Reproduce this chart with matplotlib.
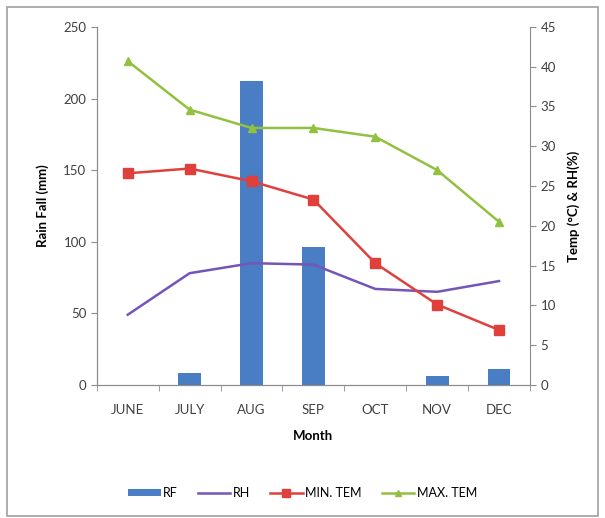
import matplotlib.pyplot as plt
from matplotlib.patches import Rectangle
import numpy as np

plt.rcParams['font.family'] = ['Lato', 'DejaVu Sans']

months = ['JUNE', 'JULY', 'AUG', 'SEP', 'OCT', 'NOV', 'DEC']
rain_fall = [0, 8, 212, 96, 0, 6, 11]          # mm, left axis
rel_humidity = [49, 78, 85, 84, 67, 65, 72.5]  # %, left axis
min_temp = [26.6, 27.2, 25.6, 23.3, 15.3, 10.1, 6.9]   # deg C, right axis
max_temp = [40.7, 34.6, 32.3, 32.3, 31.2, 27.0, 20.5]  # deg C, right axis

c_rf = '#4A7EC4'
c_rh = '#7455B8'
c_min = '#E0403C'
c_max = '#92C040'
c_axis = '#8C8C8C'

fig = plt.figure(figsize=(6.05, 5.18), dpi=100)
ax = fig.add_axes([0.160, 0.257, 0.716, 0.691])
ax2 = ax.twinx()

x = np.arange(len(months))
bars = ax.bar(x, rain_fall, width=0.37, color=c_rf, zorder=2, label='RF')
rh_line, = ax.plot(x, rel_humidity, color=c_rh, lw=1.8, zorder=3, label='RH')
min_line, = ax2.plot(x, min_temp, color=c_min, lw=1.8, marker='s', ms=7, label='MIN. TEM')
max_line, = ax2.plot(x, max_temp, color=c_max, lw=1.8, marker='^', ms=6, label='MAX. TEM')

ax.set_xlim(-0.5, len(months) - 0.5)
ax.set_ylim(0, 250)
ax.set_yticks(np.arange(0, 251, 50))
ax2.set_ylim(0, 45)
ax2.set_yticks(np.arange(0, 46, 5))

ax.set_xticks(x)
ax.set_xticklabels(months)
ax.set_xticks(np.arange(-0.5, len(months), 1), minor=True)
ax.tick_params(axis='x', which='major', length=0, pad=14, labelsize=9.5, colors='#404040')
ax.tick_params(axis='x', which='minor', length=4, color=c_axis)
ax.tick_params(axis='y', length=4, color=c_axis, labelsize=9.5, labelcolor='#404040')
ax2.tick_params(axis='y', length=4, color=c_axis, labelsize=9.5, labelcolor='#404040')

for a in (ax, ax2):
    a.spines['top'].set_visible(False)
    for s in ('left', 'right', 'bottom'):
        a.spines[s].set_color(c_axis)
ax.spines['right'].set_visible(False)

ax.set_ylabel('Rain Fall (mm)', fontsize=9.5, fontweight='bold', labelpad=10)
ax2.set_ylabel('Temp (°C) & RH(%)', fontsize=9.5, fontweight='bold', labelpad=8)
ax.set_xlabel('Month', fontsize=9.5, fontweight='bold', labelpad=10)

fig.legend([bars, rh_line, min_line, max_line], ['RF', 'RH', 'MIN. TEM', 'MAX. TEM'],
           loc='center', bbox_to_anchor=(0.5, 0.048), ncol=4,
           frameon=False, fontsize=9, handlelength=2.6, handleheight=0.5,
           columnspacing=1.6, handletextpad=0.2, markerscale=0.8)

fig.patches.append(Rectangle((0.012, 0.004), 0.976, 0.983, transform=fig.transFigure,
                             fill=False, edgecolor='#A0A0A0', lw=1.2))

fig.savefig('out.png', dpi=100)
